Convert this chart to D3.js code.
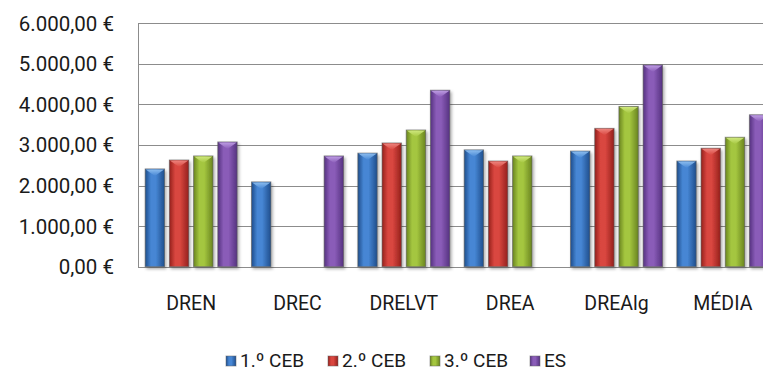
<!DOCTYPE html>
<html>
<head>
<meta charset="utf-8">
<script src="https://cdn.jsdelivr.net/npm/d3@7"></script>
<style>
  html, body { margin: 0; padding: 0; background: #fff; overflow: hidden; }
  svg { display: block; }
  text { font-family: Roboto, "Liberation Sans", sans-serif; fill: #1a1a1a; }
</style>
</head>
<body>
<svg id="chart" width="763" height="372"></svg>
<script>
// Regions and the average column
const categories = ["DREN", "DREC", "DRELVT", "DREA", "DREAlg", "MÉDIA"];
// School levels shown in the legend
const seriesNames = ["1.º CEB", "2.º CEB", "3.º CEB", "ES"];
// Cost per pupil (€), one array per level; null = no value
const ceb1 = [2410, 2090, 2800, 2880, 2850, 2605];
const ceb2 = [2630, null, 3050, 2605, 3410, 2920];
const ceb3 = [2730, null, 3370, 2730, 3950, 3190];
const es   = [3075, 2730, 4350, null, 4975, 3745];
const yTicks = [0, 1000, 2000, 3000, 4000, 5000, 6000];

const seriesValues = [ceb1, ceb2, ceb3, es];
const palette = [
  { mid: "#4686d4", edge: "#1f4e8c", cap: "#92c2f2" },
  { mid: "#d9463f", edge: "#94201c", cap: "#f08a84" },
  { mid: "#a4c63f", edge: "#6a8520", cap: "#d4ec84" },
  { mid: "#8a5cb8", edge: "#553280", cap: "#c3a3e8" }
];

const svg = d3.select("#chart");
const plotLeft = 138, plotRight = 776, plotTop = 23.3, plotBottom = 266.7;

const pt = d3.formatLocale({ decimal: ",", thousands: ".", grouping: [3], currency: ["", " €"] });
const fmt = v => pt.format(",.2f")(v) + " €";

const y = d3.scaleLinear().domain([0, 6000]).range([plotBottom, plotTop]);
const x0 = d3.scaleBand().domain(categories).range([plotLeft, plotRight])
  .paddingInner(0.135).paddingOuter(0.0675);
const x1 = d3.scaleBand().domain(seriesNames).range([0, x0.bandwidth()])
  .paddingInner(0.2).paddingOuter(0);

// Gradients and shadow
const defs = svg.append("defs");
palette.forEach((c, i) => {
  const g = defs.append("linearGradient").attr("id", "bar" + i)
    .attr("x1", "0%").attr("x2", "100%").attr("y1", "0%").attr("y2", "0%");
  g.append("stop").attr("offset", "0%").attr("stop-color", c.edge);
  g.append("stop").attr("offset", "30%").attr("stop-color", c.mid);
  g.append("stop").attr("offset", "55%").attr("stop-color", c.mid);
  g.append("stop").attr("offset", "100%").attr("stop-color", c.edge);
  const cg = defs.append("linearGradient").attr("id", "cap" + i)
    .attr("x1", "0%").attr("x2", "0%").attr("y1", "0%").attr("y2", "100%");
  cg.append("stop").attr("offset", "0%").attr("stop-color", c.cap);
  cg.append("stop").attr("offset", "100%").attr("stop-color", c.mid);
});
const f = defs.append("filter").attr("id", "shadow")
  .attr("x", "-30%").attr("y", "-10%").attr("width", "170%").attr("height", "130%");
f.append("feDropShadow").attr("dx", 1.5).attr("dy", 2).attr("stdDeviation", 1.6)
  .attr("flood-color", "#000").attr("flood-opacity", 0.35);

// Gridlines
svg.append("g").selectAll("line").data(yTicks).join("line")
  .attr("x1", plotLeft).attr("x2", 763)
  .attr("y1", d => Math.round(y(d)) + 0.5).attr("y2", d => Math.round(y(d)) + 0.5)
  .attr("stroke", "#8c8c8c").attr("stroke-width", 1);

// Value axis line
svg.append("line")
  .attr("x1", plotLeft + 0.5).attr("x2", plotLeft + 0.5)
  .attr("y1", Math.round(plotTop) + 0.5).attr("y2", Math.round(plotBottom) + 0.5)
  .attr("stroke", "#8c8c8c");

// Value axis labels
svg.append("g").selectAll("text").data(yTicks).join("text")
  .attr("x", 114).attr("y", d => y(d))
  .attr("dy", "0.36em").attr("text-anchor", "end")
  .style("font-size", "20.5px")
  .text(d => fmt(d));

// Bars
const groups = svg.append("g").selectAll("g").data(categories).join("g")
  .attr("transform", d => `translate(${x0(d)},0)`);

groups.each(function (cat, ci) {
  const g = d3.select(this);
  seriesNames.forEach((s, si) => {
    const v = seriesValues[si][ci];
    if (v == null) return;
    const bx = x1(s), bw = x1.bandwidth(), by = y(v), bh = y(0) - y(v);
    const bar = g.append("g").attr("filter", "url(#shadow)");
    bar.append("rect")
      .attr("x", bx).attr("y", by).attr("width", bw).attr("height", bh)
      .attr("fill", `url(#bar${si})`)
      .attr("stroke", "#5a5a5a").attr("stroke-opacity", 0.6).attr("stroke-width", 1);
    const capDepth = Math.min(7, bh);
    bar.append("path")
      .attr("d", `M${bx + 0.5},${by + 0.5} L${bx + bw - 0.5},${by + 0.5} L${bx + bw / 2},${by + capDepth} Z`)
      .attr("fill", `url(#cap${si})`).attr("opacity", 0.9);
  });
});

// Category labels
svg.append("g").selectAll("text").data(categories).join("text")
  .attr("x", d => x0(d) + x0.bandwidth() / 2).attr("y", 310)
  .attr("text-anchor", "middle")
  .style("font-size", "19.5px")
  .text(d => d);

// Legend
const legendX = [226, 328, 430, 530];
const legend = svg.append("g").selectAll("g").data(seriesNames).join("g")
  .attr("transform", (d, i) => `translate(${legendX[i]},356)`);
legend.append("rect")
  .attr("width", 10).attr("height", 10)
  .attr("fill", (d, i) => `url(#bar${i})`)
  .attr("stroke", "#666").attr("stroke-opacity", 0.5);
legend.append("text")
  .attr("x", 14).attr("y", 11)
  .style("font-size", "19px")
  .text(d => d);
</script>
</body>
</html>
